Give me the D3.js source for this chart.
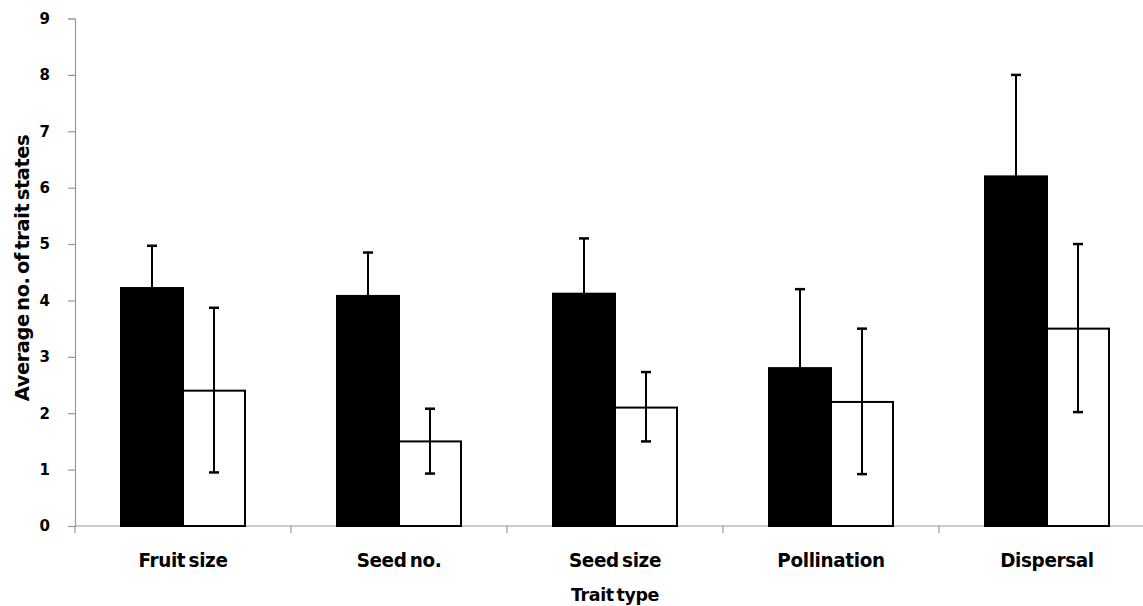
<!DOCTYPE html>
<html>
<head>
<meta charset="utf-8">
<script src="https://cdn.jsdelivr.net/npm/d3@7"></script>
<style>
  body { margin: 0; background: #fff; }
  svg { display: block; }
</style>
</head>
<body>
<div id="chart"></div>
<script>
// Data
var categories = ["Fruit size", "Seed no.", "Seed size", "Pollination", "Dispersal"];
var series = ["black", "white"];
var blackValues = [4.22, 4.08, 4.12, 2.8, 6.2];
var blackUpper = [4.97, 4.85, 5.1, 4.2, 8.0];
var blackLower = [3.47, 3.31, 3.14, 1.4, 4.4];
var whiteValues = [2.4, 1.5, 2.1, 2.2, 3.5];
var whiteUpper = [3.87, 2.08, 2.73, 3.5, 5.0];
var whiteLower = [0.95, 0.93, 1.5, 0.92, 2.02];
var yTicks = [0, 1, 2, 3, 4, 5, 6, 7, 8, 9];

var chartW = 1143, chartH = 606;
var plotLeft = 75, plotBottom = 526, plotTop = 18.5;
var labelFont = "DejaVu Sans, sans-serif";

var svg = d3.select("#chart").append("svg")
    .attr("width", chartW)
    .attr("height", chartH);

// Scales
var y = d3.scaleLinear().domain([0, 9]).range([plotBottom, plotTop]);
var x0 = d3.scaleBand().domain(categories).range([plotLeft, plotLeft + 216 * 5]).paddingInner(0);
var groupWidth = 124;
var x1 = d3.scaleBand().domain(series).range([0, groupWidth]);
var offset = (x0.bandwidth() - groupWidth) / 2;

var rows = categories.map(function(c, i) {
    return [
        { cat: c, s: "black", v: blackValues[i], hi: blackUpper[i], lo: blackLower[i] },
        { cat: c, s: "white", v: whiteValues[i], hi: whiteUpper[i], lo: whiteLower[i] }
    ];
});
var flat = [].concat.apply([], rows);

// Y axis
var yAxis = svg.append("g")
    .attr("transform", "translate(" + plotLeft + ",0)")
    .call(d3.axisLeft(y).tickValues(yTicks).tickSize(7).tickPadding(18).tickFormat(d3.format("d")));
yAxis.select(".domain").attr("stroke", "#999").attr("stroke-width", 1.2);
yAxis.selectAll(".tick line").attr("stroke", "#999").attr("stroke-width", 1.2);
yAxis.selectAll(".tick text")
    .attr("font-family", labelFont)
    .attr("font-weight", "bold")
    .attr("font-size", 15)
    .attr("fill", "#000");

// X axis line and boundary ticks
svg.append("line")
    .attr("x1", plotLeft).attr("x2", chartW)
    .attr("y1", y(0)).attr("y2", y(0))
    .attr("stroke", "#999").attr("stroke-width", 1.2);

var boundaries = categories.map(function(c) { return x0(c); });
boundaries.push(x0.range()[1]);
svg.append("g").selectAll("line")
    .data(boundaries)
    .enter().append("line")
    .attr("x1", function(d) { return d; }).attr("x2", function(d) { return d; })
    .attr("y1", y(0)).attr("y2", y(0) + 7)
    .attr("stroke", "#999").attr("stroke-width", 1.2);

// Bars
svg.append("g").selectAll("rect")
    .data(flat)
    .enter().append("rect")
    .attr("x", function(d) { return x0(d.cat) + offset + x1(d.s); })
    .attr("y", function(d) { return y(d.v); })
    .attr("width", x1.bandwidth())
    .attr("height", function(d) { return y(0) - y(d.v); })
    .attr("fill", function(d) { return d.s == "black" ? "#000" : "#fff"; })
    .attr("stroke", "#000")
    .attr("stroke-width", 2);

// Error bars
var cap = 5;
var err = svg.append("g").selectAll("g")
    .data(flat)
    .enter().append("g")
    .attr("transform", function(d) {
        return "translate(" + (x0(d.cat) + offset + x1(d.s) + x1.bandwidth() / 2) + ",0)";
    });
err.append("line")
    .attr("y1", function(d) { return y(d.lo); })
    .attr("y2", function(d) { return y(d.hi); })
    .attr("stroke", "#000").attr("stroke-width", 2);
err.append("line")
    .attr("x1", -cap).attr("x2", cap)
    .attr("y1", function(d) { return y(d.hi); })
    .attr("y2", function(d) { return y(d.hi); })
    .attr("stroke", "#000").attr("stroke-width", 2.5);
err.append("line")
    .attr("x1", -cap).attr("x2", cap)
    .attr("y1", function(d) { return y(d.lo); })
    .attr("y2", function(d) { return y(d.lo); })
    .attr("stroke", "#000").attr("stroke-width", 2.5);

// Condensed bold label, like the narrow font of the original
function condensedText(parent, x, yy, str, rotate, size, sx) {
    var g = parent.append("g")
        .attr("transform", "translate(" + x + "," + yy + ")" + (rotate ? " rotate(-90)" : "") + " scale(" + sx + ",1)");
    g.append("text")
        .attr("text-anchor", "middle")
        .attr("font-family", labelFont)
        .attr("font-weight", "bold")
        .attr("font-size", size)
        .attr("letter-spacing", -0.4)
        .attr("word-spacing", -3)
        .text(str);
    return g;
}

// Category labels
var catLabels = svg.append("g");
categories.forEach(function(c) {
    condensedText(catLabels, x0(c) + offset + groupWidth / 2, 567, c, false, 20, 0.92);
});

// Axis titles
condensedText(svg, (x0.range()[0] + x0.range()[1]) / 2, 601, "Trait type", false, 18, 0.97);
condensedText(svg, 29, 268, "Average no. of trait states", true, 20, 0.97);
</script>
</body>
</html>
